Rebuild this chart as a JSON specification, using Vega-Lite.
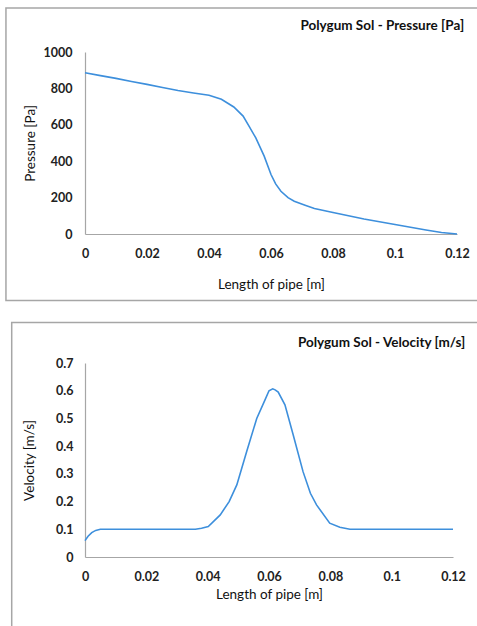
{
  "$schema": "https://vega.github.io/schema/vega-lite/v6.json",
  "padding": {"left": 5, "top": 7, "right": 0, "bottom": 0},
  "background": "white",
  "spacing": 19,
  "align": "none",
  "config": {
    "view": {"stroke": null},
    "font": "Lato",
    "axis": {
      "grid": false,
      "ticks": false,
      "labelOverlap": false,
      "labelFlush": false,
      "domainColor": "#a6a6a6",
      "domainWidth": 1.2,
      "labelFont": "Lato",
      "labelFontWeight": "bold",
      "labelFontSize": 12.5,
      "labelColor": "#222222",
      "titleFont": "Lato",
      "titleFontWeight": "normal",
      "titleFontSize": 13.5,
      "titleColor": "#111111"
    }
  },
  "datasets": {
    "one": [{"k": 1}],
    "pressure": [
      {"x": 0, "p": 886}, {"x": 0.005, "p": 870}, {"x": 0.01, "p": 855}, {"x": 0.015, "p": 838},
      {"x": 0.02, "p": 822}, {"x": 0.025, "p": 805}, {"x": 0.03, "p": 788}, {"x": 0.035, "p": 775},
      {"x": 0.04, "p": 762}, {"x": 0.044, "p": 740}, {"x": 0.048, "p": 698}, {"x": 0.051, "p": 648},
      {"x": 0.053, "p": 590}, {"x": 0.0551, "p": 528}, {"x": 0.0578, "p": 428}, {"x": 0.06, "p": 327},
      {"x": 0.0615, "p": 275}, {"x": 0.0632, "p": 235}, {"x": 0.0655, "p": 200}, {"x": 0.0675, "p": 180},
      {"x": 0.071, "p": 158}, {"x": 0.074, "p": 140}, {"x": 0.08, "p": 118}, {"x": 0.09, "p": 82},
      {"x": 0.1, "p": 52}, {"x": 0.11, "p": 22}, {"x": 0.115, "p": 8}, {"x": 0.12, "p": 0}
    ],
    "velocity": [
      {"x": 0, "v": 0.059}, {"x": 0.001, "v": 0.075}, {"x": 0.0022, "v": 0.088}, {"x": 0.0035, "v": 0.096},
      {"x": 0.005, "v": 0.1}, {"x": 0.036, "v": 0.1}, {"x": 0.038, "v": 0.104}, {"x": 0.0402, "v": 0.11},
      {"x": 0.0441, "v": 0.152}, {"x": 0.047, "v": 0.2}, {"x": 0.0495, "v": 0.26}, {"x": 0.0527, "v": 0.38},
      {"x": 0.056, "v": 0.5}, {"x": 0.0587, "v": 0.567}, {"x": 0.06, "v": 0.6}, {"x": 0.0612, "v": 0.607},
      {"x": 0.062, "v": 0.603}, {"x": 0.063, "v": 0.595}, {"x": 0.0652, "v": 0.549}, {"x": 0.0679, "v": 0.44},
      {"x": 0.0711, "v": 0.308}, {"x": 0.0735, "v": 0.23}, {"x": 0.0755, "v": 0.188}, {"x": 0.0798, "v": 0.122},
      {"x": 0.0831, "v": 0.107}, {"x": 0.0864, "v": 0.1}, {"x": 0.12, "v": 0.1}
    ]
  },
  "vconcat": [
    {
      "width": 372,
      "height": 182,
      "layer": [
        {
          "data": {"name": "pressure"},
          "mark": {"type": "line", "color": "#3d8fdc", "strokeWidth": 1.6, "clip": false},
          "encoding": {
            "x": {"field": "x", "type": "quantitative", "title": "Length of pipe [m]",
              "scale": {"domain": [0, 0.12], "nice": false, "zero": false},
              "axis": {"values": [0, 0.02, 0.04, 0.06, 0.08, 0.1, 0.12], "tickCount": 20, "labelExpr": "format(datum.value, '~g')", "labelOverlap": false, "labelFlush": false, "labelPadding": 13, "titlePadding": 18}},
            "y": {"field": "p", "type": "quantitative", "title": "Pressure [Pa]",
              "scale": {"domain": [0, 1000], "nice": false, "zero": false},
              "axis": {"values": [0, 200, 400, 600, 800, 1000], "tickCount": 20, "labelExpr": "format(datum.value, '~g')", "labelOverlap": false, "labelPadding": 13, "titlePadding": 6}}
          }
        },
        {
          "data": {"name": "one"},
          "mark": {"type": "rect", "filled": false, "stroke": "#a6a6a6", "strokeWidth": 1.5, "clip": false},
          "encoding": {
            "x": {"datum": -0.0255, "type": "quantitative"},
            "x2": {"datum": 0.1275},
            "y": {"datum": 1242, "type": "quantitative"},
            "y2": {"datum": -365}
          }
        },
        {
          "data": {"name": "one"},
          "mark": {"type": "text", "text": "Polygum Sol - Pressure [Pa]", "align": "right", "baseline": "middle", "font": "Lato", "fontWeight": "bold", "fontSize": 13.5, "color": "#111111", "clip": false},
          "encoding": {
            "x": {"datum": 0.1223, "type": "quantitative"},
            "y": {"datum": 1143, "type": "quantitative"}
          }
        }
      ]
    },
    {
      "width": 368,
      "height": 194,
      "layer": [
        {
          "data": {"name": "velocity"},
          "mark": {"type": "line", "color": "#3d8fdc", "strokeWidth": 1.6, "clip": false},
          "encoding": {
            "x": {"field": "x", "type": "quantitative", "title": "Length of pipe [m]",
              "scale": {"domain": [0, 0.12], "nice": false, "zero": false},
              "axis": {"values": [0, 0.02, 0.04, 0.06, 0.08, 0.1, 0.12], "tickCount": 20, "labelExpr": "format(datum.value, '~g')", "labelOverlap": false, "labelFlush": false, "labelPadding": 13, "titlePadding": 5}},
            "y": {"field": "v", "type": "quantitative", "title": "Velocity [m/s]",
              "scale": {"domain": [0, 0.7], "nice": false, "zero": false},
              "axis": {"values": [0, 0.1, 0.2, 0.3, 0.4, 0.5, 0.6, 0.7], "tickCount": 20, "labelExpr": "format(datum.value, '~g')", "labelOverlap": false, "labelPadding": 12, "titlePadding": 19}}
          }
        },
        {
          "data": {"name": "one"},
          "mark": {"type": "rect", "filled": false, "stroke": "#a6a6a6", "strokeWidth": 1.5, "clip": false},
          "encoding": {
            "x": {"datum": -0.0239, "type": "quantitative"},
            "x2": {"datum": 0.1302},
            "y": {"datum": 0.8457, "type": "quantitative"},
            "y2": {"datum": -0.2638}
          }
        },
        {
          "data": {"name": "one"},
          "mark": {"type": "text", "text": "Polygum Sol - Velocity [m/s]", "align": "right", "baseline": "middle", "font": "Lato", "fontWeight": "bold", "fontSize": 13.5, "color": "#111111", "clip": false},
          "encoding": {
            "x": {"datum": 0.124, "type": "quantitative"},
            "y": {"datum": 0.772, "type": "quantitative"}
          }
        }
      ]
    }
  ]
}
